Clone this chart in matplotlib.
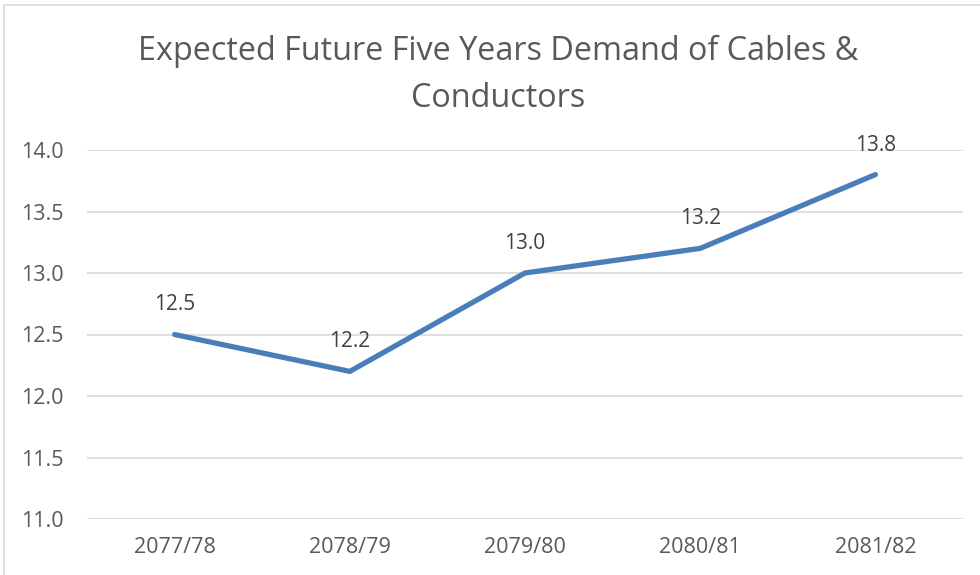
import matplotlib
matplotlib.use("Agg")
import matplotlib.pyplot as plt
from matplotlib.patches import Rectangle

categories = ["2077/78", "2078/79", "2079/80", "2080/81", "2081/82"]
values = [12.5, 12.2, 13.0, 13.2, 13.8]
yticks = [11.0, 11.5, 12.0, 12.5, 13.0, 13.5, 14.0]
title_lines = ["Expected Future Five Years Demand of Cables &", "Conductors"]

plt.rcParams['font.family'] = ['Open Sans', 'DejaVu Sans']
W, H = 980, 575
fig = plt.figure(figsize=(W/100, H/100), dpi=100)
fig.patches.append(Rectangle((4/W, -0.1), 1.2, (575-5)/H + 0.1, transform=fig.transFigure,
                             fill=False, edgecolor='#d9d9d9', linewidth=1.2))
ax = fig.add_axes([87/W, (575-519)/H, (963-87)/W, (519-150)/H])
x = list(range(len(categories)))
ax.plot(x, values, color='#4a7ebb', linewidth=3.8, solid_capstyle='round')
ax.set_xlim(-0.5, len(categories)-0.5)
ax.set_ylim(11.0, 14.0)
ax.set_yticks(yticks)
ax.set_yticklabels([f"{v:.1f}" for v in yticks])
ax.set_xticks(x)
ax.set_xticklabels(categories)
ax.grid(axis='y', color='#d9d9d9', linewidth=1.2)
ax.set_axisbelow(True)
for s in ax.spines.values():
    s.set_visible(False)
ax.tick_params(length=0, labelsize=15.5, labelcolor='#595959')
ax.tick_params(axis='y', pad=17)
ax.tick_params(axis='x', pad=13)
for xi, v in zip(x, values):
    ax.annotate(f"{v:.1f}", (xi, v), xytext=(0, 17.3), textcoords='offset points',
                ha='center', va='baseline', fontsize=15, color='#404040', annotation_clip=False)
fig.text(498/W, 1-60/H, title_lines[0], ha='center', va='baseline', fontsize=23.3, color='#595959')
fig.text(498/W, 1-107/H, title_lines[1], ha='center', va='baseline', fontsize=23.3, color='#595959')
fig.savefig("out.png", dpi=100)
